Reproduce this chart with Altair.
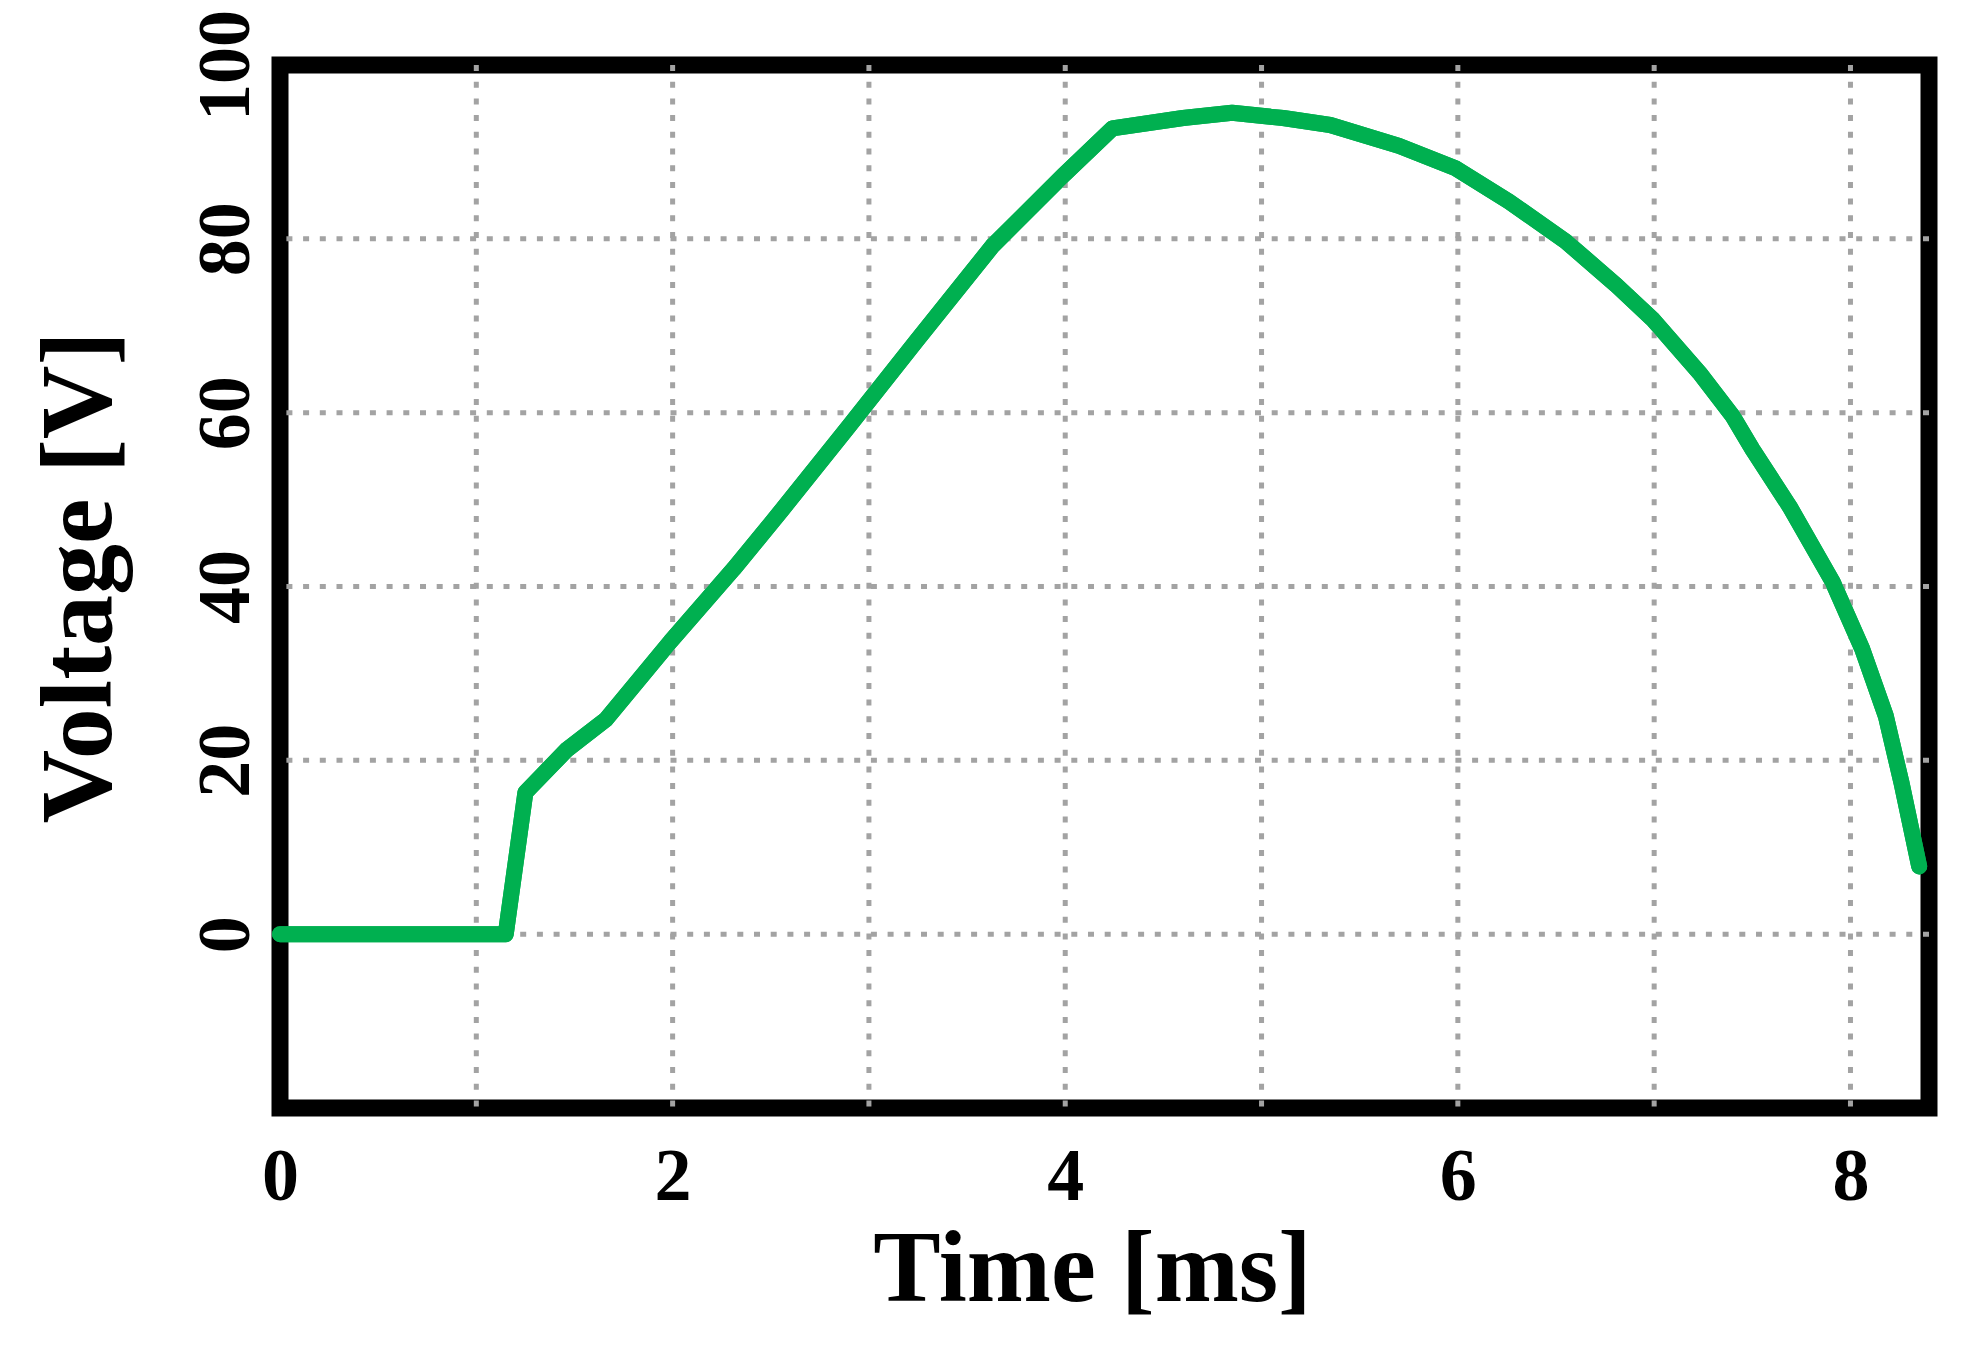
import altair as alt
import pandas as pd

# ---- data ----
time_ms = [0, 1.15, 1.25, 1.46, 1.66, 1.99, 2.31, 2.56, 2.90, 3.24,
           3.63, 3.99, 4.24, 4.60, 4.85, 5.11, 5.35, 5.70, 5.99, 6.26,
           6.55, 6.81, 6.99, 7.23, 7.40, 7.50, 7.69, 7.91, 8.06, 8.18,
           8.26, 8.35]
voltage = [0, 0, 16.3, 21.2, 24.7, 33.7, 42.0, 48.9, 58.5, 68.2,
           79.2, 87.3, 92.7, 93.9, 94.5, 93.9, 93.1, 90.7, 88.1, 84.3,
           79.7, 74.6, 70.8, 64.6, 59.6, 55.8, 49.2, 40.5, 32.8, 25.1,
           17.4, 7.8]

x_grid = [1, 2, 3, 4, 5, 6, 7, 8]
y_grid = [0, 20, 40, 60, 80]
x_ticks = [0, 2, 4, 6, 8]
y_ticks = [0, 20, 40, 60, 80, 100]

x_domain = [0, 8.40]
y_domain = [-20, 100]

FONT = "Liberation Serif"
GRID_COLOR = "#a3a3a3"

xs = alt.Scale(domain=x_domain, nice=False, zero=False)
ys = alt.Scale(domain=y_domain, nice=False, zero=False)

x_axis = alt.Axis(
    values=x_ticks, title="Time [ms]", labelPadding=33,
    labelFontSize=74, labelFont=FONT, labelFontWeight="bold",
    labelColor="black", labelAlign="center", labelBaseline="top",
    titleFontSize=101, titleFont=FONT, titleFontWeight="bold",
    titleColor="black", titleX=812, titleY=192, titleBaseline="alphabetic",
    titleAlign="center",
)
y_axis = alt.Axis(
    values=y_ticks, title="Voltage [V]", labelPadding=32,
    labelAngle=-90, labelAlign="center", labelBaseline="alphabetic",
    labelFontSize=74, labelFont=FONT, labelFontWeight="bold",
    labelColor="black",
    titleFontSize=102, titleFont=FONT, titleFontWeight="bold",
    titleColor="black", titleAngle=270, titleX=-170, titleY=512,
    titleBaseline="alphabetic", titleAlign="center",
)

line_df = pd.DataFrame({"t": time_ms, "v": voltage})

vgrid = alt.Chart(pd.DataFrame({"t": x_grid})).mark_rule(
    color=GRID_COLOR, strokeWidth=5, strokeDash=[6, 10.7]
).encode(x=alt.X("t:Q", scale=xs, axis=x_axis))

hgrid = alt.Chart(pd.DataFrame({"v": y_grid})).mark_rule(
    color=GRID_COLOR, strokeWidth=5, strokeDash=[6, 10.7]
).encode(y=alt.Y("v:Q", scale=ys, axis=y_axis))

line = alt.Chart(line_df).mark_line(
    color="#00B050", strokeWidth=16, strokeCap="round", strokeJoin="round"
).encode(
    x=alt.X("t:Q", scale=xs, axis=x_axis),
    y=alt.Y("v:Q", scale=ys, axis=y_axis),
)

chart = alt.layer(line, vgrid, hgrid, line).properties(
    width=1649,
    height=1043,
    autosize=alt.AutoSizeParams(type="none"),
    padding={"left": 272, "top": 57, "right": 40, "bottom": 229},
    background="white",
).configure_view(
    stroke="black", strokeWidth=17
).configure_axis(
    domain=False, ticks=False, grid=False, labelOverlap=False,
    labelFlush=False, labelBound=False
)

chart.save("out.html", embed_options={"renderer": "svg", "actions": False})
